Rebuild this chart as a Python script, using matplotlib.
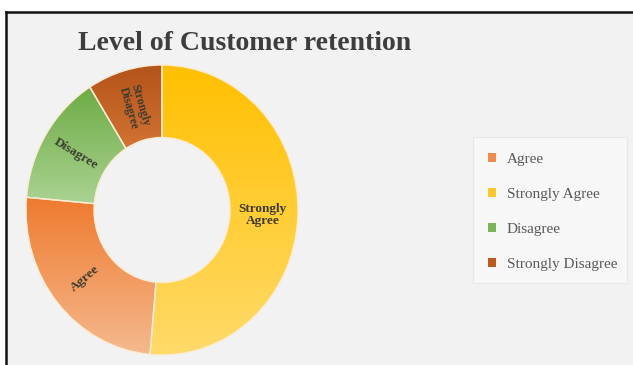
import numpy as np
import matplotlib
matplotlib.use("Agg")
import matplotlib.pyplot as plt
from matplotlib.patches import Rectangle, Patch
from matplotlib.lines import Line2D
from matplotlib.colors import to_rgb

# Data (share of respondents, %), drawn clockwise from 12 o'clock
categories = ["Strongly Agree", "Agree", "Disagree", "Strongly Disagree"]
values = [51.4, 25.0, 14.7, 8.9]
wedge_labels = ["Strongly\nAgree", "Agree", "Disagree", "Strongly\nDisagree"]
legend_order = ["Agree", "Strongly Agree", "Disagree", "Strongly Disagree"]

# Gradient fills (top colour, bottom colour) and flat legend swatches
grad_top = {"Strongly Agree": "#FFC000", "Agree": "#EE7A2E",
            "Disagree": "#6EAB45", "Strongly Disagree": "#B4531A"}
grad_bot = {"Strongly Agree": "#FFDA6A", "Agree": "#F5B98E",
            "Disagree": "#AAD392", "Strongly Disagree": "#D27434"}
swatch = {"Strongly Agree": "#FFC72C", "Agree": "#EF8B4B",
          "Disagree": "#7DB35A", "Strongly Disagree": "#B95A1E"}
label_style = {"Strongly Agree": "horizontal", "Agree": "radial",
               "Disagree": "radial", "Strongly Disagree": "radial"}

W, H = 633, 365
fig = plt.figure(figsize=(W / 100, H / 100), dpi=100)
fig.patch.set_facecolor("white")

# Chart area: light grey panel with a dark frame on the top and left edges
fig.patches.append(Rectangle((5.5 / W, 0), 1, 1 - 11.5 / H, transform=fig.transFigure,
                             facecolor="#F2F2F2", edgecolor="none", zorder=-2))
fig.add_artist(Line2D([5.5 / W, 1], [1 - 11.5 / H, 1 - 11.5 / H], transform=fig.transFigure,
                      color="#111111", lw=1.8, zorder=1))
fig.add_artist(Line2D([5.5 / W, 5.5 / W], [0, 1 - 11.5 / H], transform=fig.transFigure,
                      color="#111111", lw=1.8, zorder=1))

# Doughnut axes (slightly narrower than tall)
cx, cy, rx, ry = 162, 210, 136, 145
pad = 1.08
ax = fig.add_axes([(cx - rx * pad) / W, (H - cy - ry * pad) / H,
                   2 * rx * pad / W, 2 * ry * pad / H])
ax.set_facecolor("none")

wedges, _ = ax.pie(values, startangle=90, counterclock=False, radius=1.0,
                   wedgeprops=dict(width=0.5, edgecolor="#FCEBD2", linewidth=1.0))

for w, cat in zip(wedges, categories):
    ext = w.get_path().get_extents()
    c0 = np.array(to_rgb(grad_top[cat]))
    c1 = np.array(to_rgb(grad_bot[cat]))
    t = np.linspace(0, 1, 256)[:, None, None]
    img = c0 * (1 - t) + c1 * t
    im = ax.imshow(img, extent=(ext.x0, ext.x1, ext.y0, ext.y1), origin="upper",
                   aspect="auto", interpolation="bilinear", zorder=1)
    im.set_clip_path(w)
    w.set_facecolor("none")
    w.set_zorder(2)

for w, cat, lab in zip(wedges, categories, wedge_labels):
    mid = np.deg2rad((w.theta1 + w.theta2) / 2)
    r = 0.74
    x, y = r * np.cos(mid), r * np.sin(mid)
    if label_style[cat] == "horizontal":
        rot = 0
    else:
        ang = np.rad2deg(mid) % 360
        rot = ang if (ang <= 90 or ang >= 270) else ang - 180
    fs = 8.5 if cat == "Strongly Disagree" else 9.5
    ax.text(x, y, lab, ha="center", va="center", rotation=rot, rotation_mode="anchor",
            fontsize=fs, fontweight="bold", family="Liberation Serif",
            color="#3C3A30", linespacing=1.0, zorder=3)

ax.set_xlim(-pad, pad)
ax.set_ylim(-pad, pad)
ax.set_aspect("auto")
ax.axis("off")

# Title
fig.text(245 / W, 1 - 43 / H, "Level of Customer retention", ha="center", va="center",
         fontsize=20, fontweight="bold", family="Liberation Serif", color="#3D3D3D")

# Legend panel
fig.patches.append(Rectangle((473 / W, 1 - 283 / H), 154 / W, 146 / H,
                             transform=fig.transFigure, facecolor="#F7F7F7",
                             edgecolor="#E8E8E8", lw=0.8, zorder=-1))
handles = [Patch(facecolor=swatch[c], edgecolor="none") for c in legend_order]
fig.legend(handles, legend_order, loc="center left",
           bbox_to_anchor=(474 / W, 1 - 212 / H), frameon=False,
           prop={"family": "Liberation Serif", "size": 11},
           labelcolor="#595959", handlelength=0.55, handleheight=0.55,
           handletextpad=0.7, labelspacing=1.45)

fig.savefig("out.png", dpi=100)
